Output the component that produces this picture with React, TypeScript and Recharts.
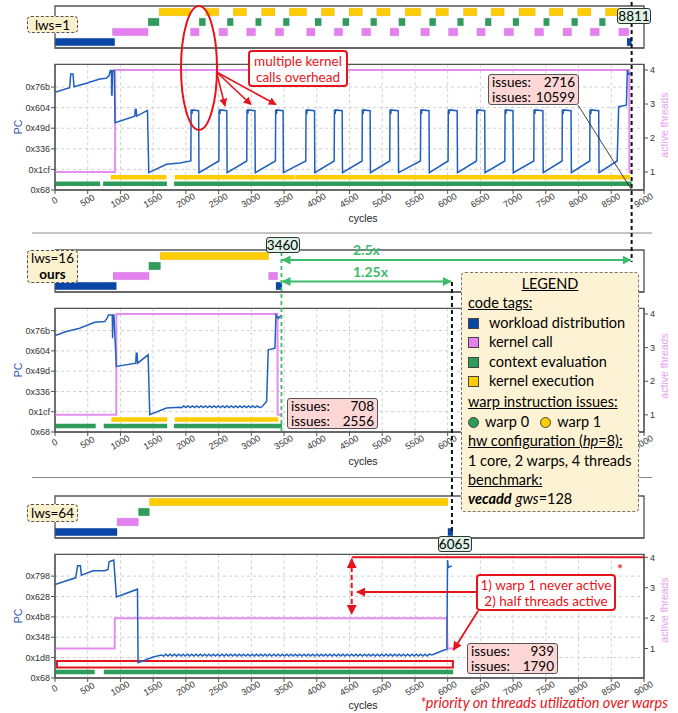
import React from 'react';
import {
  ComposedChart,
  Line,
  XAxis,
  YAxis,
  CartesianGrid,
  ReferenceArea,
  ReferenceLine,
} from 'recharts';

// ---- shared axis values ----
const CYCLE_TICKS = [0, 500, 1000, 1500, 2000, 2500, 3000, 3500, 4000, 4500, 5000, 5500, 6000, 6500, 7000, 7500, 8000, 8500, 9000];
const PC_TICKS_A = [0x68, 0x1cf, 0x336, 0x49d, 0x604, 0x76b];
const PC_TICKS_C = [0x68, 0x1d8, 0x348, 0x4b8, 0x628, 0x798];
const THREAD_TICKS = [1, 2, 3, 4];

// ---- lws=1 : code tag intervals [start, end] in cycles ----
const p1Workload = [[0, 913], [8740, 8811]];
const p1KernelCall = [[877, 1423], [2070, 2203], [2504, 2637], [2927, 3065], [3366, 3494], [3845, 3973], [4269, 4396], [4687, 4824], [5120, 5253], [5589, 5722], [6012, 6155], [6446, 6574], [6864, 7007], [7329, 7466], [7762, 7894], [8180, 8318], [8614, 8767]];
const p1Context = [[1423, 1591], [2203, 2300], [2632, 2723], [3065, 3152], [3488, 3580], [3973, 4070], [4396, 4493], [4824, 4916], [5253, 5350], [5722, 5819], [6150, 6242], [6574, 6665], [6997, 7089], [7466, 7553], [7894, 7986], [8318, 8410]];
const p1KernelExec = [[1591, 2070], [2300, 2504], [2723, 2927], [3157, 3361], [3580, 3845], [4070, 4269], [4493, 4697], [4916, 5120], [5350, 5589], [5819, 6012], [6242, 6446], [6665, 6864], [7089, 7339], [7553, 7762], [7986, 8190], [8410, 8614]];

// PC trace [cycle, pc]
const p1Pc = [
  [0, 1806], [224, 1887], [240, 2127], [275, 2127], [291, 1905], [480, 1964], [683, 2040], [785, 2051], [826, 2098], [845, 2185], [862, 2185], [866, 1760], [872, 1760], [878, 2185], [905, 2185], [918, 1276],
  [1219, 1392], [1226, 1509], [1240, 1509], [1248, 1392], [1413, 1491], [1433, 407], [1703, 553], [1907, 576], [2076, 610],
  [2080, 1509], [2092, 1430], [2098, 1500], [2195, 1486], [2200, 407],
  [2504, 610], [2508, 1509], [2520, 1430], [2526, 1500], [2625, 1486], [2630, 407],
  [2930, 610], [2934, 1509], [2946, 1430], [2952, 1500], [3055, 1486], [3060, 407],
  [3368, 610], [3372, 1509], [3384, 1430], [3390, 1500], [3485, 1486], [3490, 407],
  [3832, 610], [3836, 1509], [3848, 1430], [3854, 1500], [3965, 1486], [3970, 407],
  [4266, 610], [4270, 1509], [4282, 1430], [4288, 1500], [4388, 1486], [4393, 407],
  [4692, 610], [4696, 1509], [4708, 1430], [4714, 1500], [4815, 1486], [4820, 407],
  [5115, 610], [5119, 1509], [5131, 1430], [5137, 1500], [5245, 1486], [5250, 407],
  [5584, 610], [5588, 1509], [5600, 1430], [5606, 1500], [5715, 1486], [5720, 407],
  [6006, 610], [6010, 1509], [6022, 1430], [6028, 1500], [6145, 1486], [6150, 407],
  [6440, 610], [6444, 1509], [6456, 1430], [6462, 1500], [6566, 1486], [6571, 407],
  [6873, 610], [6877, 1509], [6889, 1430], [6895, 1500], [6998, 1486], [7003, 407],
  [7316, 610], [7320, 1509], [7332, 1430], [7338, 1500], [7455, 1486], [7460, 407],
  [7748, 610], [7752, 1509], [7764, 1430], [7770, 1500], [7885, 1486], [7890, 407],
  [8171, 610], [8175, 1509], [8187, 1430], [8193, 1500], [8308, 1486], [8313, 407],
  [8590, 610], [8613, 1556], [8731, 1583], [8746, 2197], [8760, 2121], [8811, 2140],
];
const p1Threads = [[0, 1], [918, 1], [920, 4], [8775, 4], [8777, 1], [8811, 1]];
const p1Warp0 = [[0, 690], [735, 1710], [1820, 8811]];
const p1Warp1 = [[852, 1703], [1830, 3660], [3672, 8786]];

// ---- lws=16 ----
const p2Workload = [[0, 938], [3376, 3468]];
const p2KernelCall = [[887, 1438], [3264, 3402]];
const p2Context = [[1433, 1612]];
const p2KernelExec = [[1607, 3264]];
const p2Pc = [
  [0, 1812], [173, 1883], [377, 1942], [607, 2048], [760, 2060], [796, 2118], [815, 2177], [875, 2177], [880, 1765], [886, 2177], [900, 2177], [938, 1264],
  [1234, 1323], [1242, 1500], [1254, 1500], [1262, 1323], [1423, 1470], [1448, 410], [1703, 528], [1900, 540],
  [1935, 535], [1968, 565], [2001, 535], [2034, 565], [2067, 535], [2100, 565], [2133, 535], [2166, 565], [2199, 535], [2232, 565],
  [2265, 535], [2298, 565], [2331, 535], [2364, 565], [2397, 535], [2430, 565], [2463, 535], [2496, 565], [2529, 535], [2562, 565],
  [2595, 535], [2628, 565], [2661, 535], [2694, 565], [2727, 535], [2760, 565], [2793, 535], [2826, 565], [2859, 535], [2892, 565],
  [2925, 535], [2958, 565], [2991, 535], [3024, 565], [3057, 535], [3090, 565], [3123, 540],
  [3160, 548], [3233, 646], [3259, 1559], [3361, 1588], [3376, 2177], [3412, 2118], [3463, 2177],
];
const p2Threads = [[0, 1], [936, 1], [938, 4], [3400, 4], [3402, 1], [3463, 1]];
const p2Warp0 = [[0, 622], [745, 1714], [1816, 3468]];
const p2Warp1 = [[862, 1714], [1831, 3412]];

// ---- lws=64 ----
const p3Workload = [[0, 949], [6003, 6080]];
const p3KernelCall = [[949, 1275]];
const p3Context = [[1275, 1443]];
const p3KernelExec = [[1443, 6003]];
const p3Pc = [
  [0, 1792], [173, 1859], [316, 1913], [345, 2130], [388, 2130], [403, 1961], [581, 2040], [760, 2040], [811, 2064], [826, 2203], [898, 2233], [938, 1569],
  [1260, 1708], [1270, 381], [1500, 484], [1627, 517],
  [1660, 500], [1693, 535], [1726, 500], [1759, 535], [1792, 500], [1825, 535], [1858, 500], [1891, 535], [1924, 500], [1957, 535],
  [1990, 500], [2023, 535], [2056, 500], [2089, 535], [2122, 500], [2155, 535], [2188, 500], [2221, 535], [2254, 500], [2287, 535],
  [2320, 500], [2353, 535], [2386, 500], [2419, 535], [2452, 500], [2485, 535], [2518, 500], [2551, 535], [2584, 500], [2617, 535],
  [2650, 500], [2683, 535], [2716, 500], [2749, 535], [2782, 500], [2815, 535], [2848, 500], [2881, 535], [2914, 500], [2947, 535],
  [2980, 500], [3013, 535], [3046, 500], [3079, 535], [3112, 500], [3145, 535], [3178, 500], [3211, 535], [3244, 500], [3277, 535],
  [3310, 500], [3343, 535], [3376, 500], [3409, 535], [3442, 500], [3475, 535], [3508, 500], [3541, 535], [3574, 500], [3607, 535],
  [3640, 500], [3673, 535], [3706, 500], [3739, 535], [3772, 500], [3805, 535], [3838, 500], [3871, 535], [3904, 500], [3937, 535],
  [3970, 500], [4003, 535], [4036, 500], [4069, 535], [4102, 500], [4135, 535], [4168, 500], [4201, 535], [4234, 500], [4267, 535],
  [4300, 500], [4333, 535], [4366, 500], [4399, 535], [4432, 500], [4465, 535], [4498, 500], [4531, 535], [4564, 500], [4597, 535],
  [4630, 500], [4663, 535], [4696, 500], [4729, 535], [4762, 500], [4795, 535], [4828, 500], [4861, 535], [4894, 500], [4927, 535],
  [4960, 500], [4993, 535], [5026, 500], [5059, 535], [5092, 500], [5125, 535], [5158, 500], [5191, 535], [5224, 500], [5257, 535],
  [5290, 500], [5323, 535], [5356, 500], [5389, 535], [5422, 500], [5455, 535], [5488, 500], [5521, 535], [5554, 500], [5587, 535],
  [5620, 500], [5653, 535], [5686, 500], [5719, 535],
  [5760, 520], [5936, 604], [5988, 620], [5998, 2233], [6010, 2100], [6065, 2130],
];
const p3Threads = [[0, 1], [912, 1], [914, 2], [5988, 2], [5998, 1], [6080, 1]];
const p3Warp0 = [[0, 607], [745, 6085]];
const p3Warp1: number[][] = [];

// ---- markers ----
const END_LWS1 = 8811;
const END_LWS16 = 3460;
const END_LWS64 = 6065;

const C = {
  workload: '#0a46a8',
  call: '#e680f2',
  context: '#2e9d5b',
  exec: '#ffcc00',
  pc: '#1f5fbf',
  thr: '#e58cf0',
  red: '#e8141b',
  green: '#3dbb6c',
  axis: '#555',
};

const TICK_FONT = 'Liberation Sans, Arial, sans-serif';
const TEXT_FONT = 'Lato, "Open Sans", sans-serif';
const WARP0_LEVEL = 212;
const WARP1_LEVEL = 326;

const hex = (v: number) => '0x' + v.toString(16);
const toPts = (pairs: number[][], key: string) => pairs.map(([x, v]) => ({ x, [key]: v }));
const toGapLine = (segs: number[][], level: number) =>
  segs.flatMap(([a, b]) => [{ x: a, w: level }, { x: b, w: level }, { x: b + 1, w: null }]);

// overlay x position of a cycle value (same mapping as the plot area)
const px = (c: number) => 55 + (c / 9000) * 589;

function CycleTick(props: any) {
  const { x, y, payload } = props;
  return (
    <text
      transform={`translate(${x},${y + 5}) rotate(-30)`}
      textAnchor="middle"
      dominantBaseline="middle"
      fontSize={9}
      fill="#333"
      fontFamily={TICK_FONT}
    >
      {payload.value}
    </text>
  );
}

interface StripProps {
  top: number;
  workload: number[][];
  call: number[][];
  context: number[][];
  exec: number[][];
}

const GanttStrip: React.FC<StripProps> = ({ top, workload, call, context, exec }) => {
  const rows: [number[][], string, number][] = [
    [workload, C.workload, 1],
    [call, C.call, 2],
    [context, C.context, 3],
    [exec, C.exec, 4],
  ];
  return (
    <div style={{ position: 'absolute', left: 0, top }}>
      <ComposedChart width={678} height={54} margin={{ top: 6, right: 0, bottom: 0, left: 0 }}>
        <CartesianGrid horizontal={false} strokeDasharray="3 3" stroke="#d0d0d0" />
        <XAxis
          type="number"
          dataKey="x"
          domain={[0, 9000]}
          ticks={CYCLE_TICKS}
          interval={0}
          height={6}
          tickSize={4}
          tick={false}
          stroke={C.axis}
          allowDataOverflow
        />
        <YAxis type="number" domain={[0.4, 4.6]} width={55} tick={false} tickLine={false} axisLine={false} allowDataOverflow />
        <YAxis yAxisId="r" orientation="right" type="number" domain={[0.4, 4.6]} width={34} tick={false} tickLine={false} axisLine={false} allowDataOverflow />
        {rows.map(([segs, color, row]) =>
          segs.map(([a, b], i) => (
            <ReferenceArea
              key={`${row}-${i}`}
              x1={a}
              x2={b}
              y1={row - 0.38}
              y2={row + 0.38}
              fill={color}
              fillOpacity={1}
              stroke="rgba(0,0,0,0.12)"
              strokeWidth={0.6}
            />
          ))
        )}
        <ReferenceArea x1={0} x2={9000} y1={0.4} y2={4.6} fill="none" stroke={C.axis} strokeWidth={1.3} />
      </ComposedChart>
    </div>
  );
};

interface TraceProps {
  top: number;
  height: number;
  pc: number[][];
  threads: number[][];
  warp0: number[][];
  warp1: number[][];
  pcTicks: number[];
  pcMax: number;
  thrDomain: number[];
  children?: React.ReactNode;
}

const TraceChart: React.FC<TraceProps> = ({ top, height, pc, threads, warp0, warp1, pcTicks, pcMax, thrDomain, children }) => (
  <div style={{ position: 'absolute', left: 0, top }}>
    <ComposedChart width={678} height={height} margin={{ top: 6.3, right: 0, bottom: 0, left: 0 }}>
      <CartesianGrid yAxisId="pc" strokeDasharray="3 3" stroke="#cfcfcf" />
      <XAxis
        type="number"
        dataKey="x"
        domain={[0, 9000]}
        ticks={CYCLE_TICKS}
        interval={0}
        height={36}
        tickSize={4}
        tickMargin={2}
        tick={<CycleTick />}
        stroke={C.axis}
        allowDataOverflow
      />
      <YAxis
        yAxisId="pc"
        type="number"
        domain={[104, pcMax]}
        ticks={pcTicks}
        interval={0}
        tickFormatter={hex}
        width={55}
        tickSize={4}
        tickMargin={1}
        stroke={C.axis}
        tick={{ fontSize: 9, fill: '#333', fontFamily: TICK_FONT }}
        allowDataOverflow
      />
      <YAxis
        yAxisId="thr"
        orientation="right"
        type="number"
        domain={thrDomain}
        ticks={THREAD_TICKS}
        interval={0}
        width={34}
        tickSize={4}
        tickMargin={2}
        stroke={C.axis}
        tick={{ fontSize: 9, fill: '#333', fontFamily: TICK_FONT, textAnchor: 'start' }}
        allowDataOverflow
      />
      <Line yAxisId="pc" data={toGapLine(warp0, WARP0_LEVEL)} dataKey="w" stroke={C.context} strokeWidth={4.5} dot={false} connectNulls={false} isAnimationActive={false} />
      <Line yAxisId="pc" data={toGapLine(warp1, WARP1_LEVEL)} dataKey="w" stroke={C.exec} strokeWidth={4.5} dot={false} connectNulls={false} isAnimationActive={false} />
      <Line yAxisId="thr" data={toPts(threads, 't')} dataKey="t" type="linear" stroke={C.thr} strokeWidth={2} dot={false} isAnimationActive={false} />
      <Line yAxisId="pc" data={toPts(pc, 'pc')} dataKey="pc" type="linear" stroke={C.pc} strokeWidth={1.5} dot={false} isAnimationActive={false} />
      {children}
      <ReferenceArea yAxisId="pc" x1={0} x2={9000} y1={104} y2={pcMax} fill="none" stroke={C.axis} strokeWidth={1.3} />
    </ComposedChart>
  </div>
);

const TagBox: React.FC<{ left: number; top: number; width: number; height: number; lh?: number; children: React.ReactNode }> = ({ left, top, width, height, lh = 14, children }) => (
  <div
    style={{
      position: 'absolute', left, top, width, height, boxSizing: 'border-box',
      background: '#fcf1cf', border: '1px dashed #555', borderRadius: 4,
      fontSize: 13.5, lineHeight: `${lh}px`, textAlign: 'center', display: 'flex',
      flexDirection: 'column', justifyContent: 'center', fontFamily: TEXT_FONT, color: '#000',
    }}
  >
    {children}
  </div>
);

const Marker: React.FC<{ cx: number; top: number; label: number }> = ({ cx, top, label }) => (
  <div
    style={{
      position: 'absolute', left: cx - 17, top, width: 34, height: 16, boxSizing: 'border-box',
      background: '#dcf3e6', border: '1px solid #333', borderRadius: 3, fontSize: 13.5,
      lineHeight: '14px', textAlign: 'center', fontFamily: TEXT_FONT, color: '#000',
    }}
  >
    {label}
  </div>
);

const IssuesBox: React.FC<{ left: number; top: number; w0: number; w1: number }> = ({ left, top, w0, w1 }) => (
  <div
    style={{
      position: 'absolute', left, top, width: 91, height: 31, boxSizing: 'border-box',
      background: '#fdd6d6', border: '1px solid #555', borderRadius: 3, padding: '0 3px',
      fontSize: 13.5, lineHeight: '14.5px', fontFamily: TEXT_FONT, color: '#000',
    }}
  >
    <div style={{ display: 'flex', justifyContent: 'space-between' }}><span>issues:</span><span>{w0}</span></div>
    <div style={{ display: 'flex', justifyContent: 'space-between' }}><span>issues:</span><span>{w1}</span></div>
  </div>
);

const Swatch: React.FC<{ color: string }> = ({ color }) => (
  <span style={{ display: 'inline-block', width: 11, height: 11, background: color, border: '1px solid #444', boxSizing: 'border-box', marginRight: 10, verticalAlign: -1 }} />
);
const Dot: React.FC<{ color: string }> = ({ color }) => (
  <span style={{ display: 'inline-block', width: 11, height: 11, background: color, border: '1px solid #444', borderRadius: '50%', boxSizing: 'border-box', marginRight: 6, verticalAlign: -1 }} />
);

const Legend: React.FC = () => {
  const row = { height: 19.4, lineHeight: '19.4px', whiteSpace: 'nowrap' as const };
  const u = { textDecoration: 'underline' };
  return (
    <div
      style={{
        position: 'absolute', left: 461, top: 272, width: 178, height: 240, boxSizing: 'border-box',
        background: '#fdf3d4', border: '1px dashed #777', borderRadius: 4, padding: '1px 0 0 6px',
        fontSize: 14.5, fontFamily: TEXT_FONT, color: '#000',
      }}
    >
      <div style={{ ...row, ...u, textAlign: 'center', paddingRight: 6 }}>LEGEND</div>
      <div style={{ ...row, ...u }}>code tags:</div>
      <div style={row}><Swatch color={C.workload} />workload distribution</div>
      <div style={row}><Swatch color={C.call} />kernel call</div>
      <div style={row}><Swatch color={C.context} />context evaluation</div>
      <div style={row}><Swatch color={C.exec} />kernel execution</div>
      <div style={{ ...row, ...u, marginTop: 2 }}>warp instruction issues:</div>
      <div style={row}><Dot color={C.context} />warp 0 &nbsp;&nbsp;<Dot color={C.exec} />warp 1</div>
      <div style={{ ...row, ...u }}>hw configuration (<i>hp</i>=8):</div>
      <div style={row}>1 core, 2 warps, 4 threads</div>
      <div style={{ ...row, ...u }}>benchmark:</div>
      <div style={row}><b><i>vecadd</i></b> <i>gws</i>=128</div>
    </div>
  );
};

const RedBox: React.FC<{ left: number; top: number; width: number; height: number; lines: string[] }> = ({ left, top, width, height, lines }) => (
  <div
    style={{
      position: 'absolute', left, top, width, height, boxSizing: 'border-box',
      background: 'rgba(255,255,255,0.92)', border: `2px solid ${C.red}`, borderRadius: 4,
      fontSize: 13.5, lineHeight: '16px', color: C.red, fontFamily: TEXT_FONT, textAlign: 'center',
      display: 'flex', flexDirection: 'column', justifyContent: 'center', whiteSpace: 'nowrap',
    }}
  >
    {lines.map((l) => <div key={l}>{l}</div>)}
  </div>
);

const Overlay: React.FC = () => {
  const axisTitle = { fontSize: 10.5, fontFamily: TICK_FONT };
  return (
    <svg width={678} height={713} style={{ position: 'absolute', left: 0, top: 0, pointerEvents: 'none' }}>
      <defs>
        <marker id="redHead" viewBox="0 0 10 10" refX="9" refY="5" markerWidth="5" markerHeight="5" orient="auto-start-reverse">
          <path d="M0,0 L10,5 L0,10 z" fill={C.red} />
        </marker>
        <marker id="greenHead" viewBox="0 0 10 10" refX="9" refY="5" markerWidth="5" markerHeight="5" orient="auto-start-reverse">
          <path d="M0,0 L10,5 L0,10 z" fill={C.green} />
        </marker>
      </defs>

      {/* panel separators */}
      <line x1={32} x2={652} y1={233} y2={233} stroke="#888" strokeWidth={1} />
      <line x1={32} x2={652} y1={477.5} y2={477.5} stroke="#888" strokeWidth={1} />

      {/* axis titles */}
      {[127, 370, 616].map((cy) => (
        <text key={cy} transform={`translate(19,${cy}) rotate(-90)`} textAnchor="middle" dominantBaseline="middle" fill="#2a5aa8" {...axisTitle}>PC</text>
      ))}
      {[125, 366, 610].map((cy) => (
        <text key={cy} transform={`translate(665,${cy}) rotate(-90)`} textAnchor="middle" dominantBaseline="middle" fill="#e6a0f0" {...axisTitle}>active threads</text>
      ))}
      {[219, 462, 706].map((cy) => (
        <text key={cy} x={363} y={cy} textAnchor="middle" dominantBaseline="middle" fill="#222" {...axisTitle}>cycles</text>
      ))}

      {/* end markers */}
      <line x1={px(END_LWS1)} x2={px(END_LWS1)} y1={2} y2={262} stroke="#111" strokeWidth={2} strokeDasharray="4 3" />
      <line x1={px(END_LWS64)} x2={px(END_LWS64)} y1={282} y2={531} stroke="#111" strokeWidth={2} strokeDasharray="4 3" />
      <line x1={px(END_LWS16)} x2={px(END_LWS16)} y1={252} y2={432} stroke={C.green} strokeWidth={1.8} strokeDasharray="4 3" />

      {/* speedup arrows */}
      <line x1={px(END_LWS16) + 1} x2={px(END_LWS1) - 1} y1={260} y2={260} stroke={C.green} strokeWidth={1.8} markerStart="url(#greenHead)" markerEnd="url(#greenHead)" />
      <line x1={px(END_LWS16) + 1} x2={px(END_LWS64) - 1} y1={281.5} y2={281.5} stroke={C.green} strokeWidth={1.8} markerStart="url(#greenHead)" markerEnd="url(#greenHead)" />
      <text x={353} y={251} dominantBaseline="middle" fill={C.green} fontWeight="bold" fontSize={14} fontFamily={TEXT_FONT}>2.5x</text>
      <text x={353} y={273} dominantBaseline="middle" fill={C.green} fontWeight="bold" fontSize={14} fontFamily={TEXT_FONT}>1.25x</text>

      {/* lws=1 annotations */}
      <ellipse cx={199} cy={68} rx={18} ry={62} fill="none" stroke={C.red} strokeWidth={2} />
      <line x1={216.5} y1={72} x2={225} y2={106} stroke={C.red} strokeWidth={1.6} markerEnd="url(#redHead)" />
      <line x1={216.5} y1={72} x2={251} y2={104.5} stroke={C.red} strokeWidth={1.6} markerEnd="url(#redHead)" />
      <line x1={216.5} y1={72} x2={276} y2={104.5} stroke={C.red} strokeWidth={1.6} markerEnd="url(#redHead)" />
      <line x1={578} y1={105} x2={px(END_LWS1)} y2={190} stroke="#111" strokeWidth={0.8} />

      {/* lws=64 annotations */}
      <line x1={351.7} x2={351.7} y1={559} y2={614} stroke={C.red} strokeWidth={2} strokeDasharray="5 3" markerStart="url(#redHead)" markerEnd="url(#redHead)" />
      <line x1={476} x2={357} y1={592} y2={592} stroke={C.red} strokeWidth={1.8} markerEnd="url(#redHead)" />
      <line x1={478} y1={611} x2={453.5} y2={650} stroke={C.red} strokeWidth={1.8} markerEnd="url(#redHead)" />
      <text x={620} y={571} textAnchor="middle" dominantBaseline="middle" fill={C.red} fontSize={13} fontWeight="bold" fontFamily={TEXT_FONT}>*</text>
      <text x={668} y={704} textAnchor="end" dominantBaseline="middle" fill={C.red} fontSize={14.5} fontStyle="italic" fontFamily={TEXT_FONT}>*priority on threads utilization over warps</text>
    </svg>
  );
};

export default function App() {
  return (
    <div style={{ position: 'absolute', left: 0, top: 0, width: 678, height: 713, background: '#fff', fontFamily: TEXT_FONT }}>
      <GanttStrip top={0} workload={p1Workload} call={p1KernelCall} context={p1Context} exec={p1KernelExec} />
      <TraceChart top={58} height={168} pc={p1Pc} threads={p1Threads} warp0={p1Warp0} warp1={p1Warp1} pcTicks={PC_TICKS_A} pcMax={2295} thrDomain={[0.47, 4.17]} />

      <GanttStrip top={244} workload={p2Workload} call={p2KernelCall} context={p2Context} exec={p2KernelExec} />
      <TraceChart top={302} height={166} pc={p2Pc} threads={p2Threads} warp0={p2Warp0} warp1={p2Warp1} pcTicks={PC_TICKS_A} pcMax={2294} thrDomain={[0.49, 4.17]} />

      <GanttStrip top={490} workload={p3Workload} call={p3KernelCall} context={p3Context} exec={p3KernelExec} />
      <TraceChart top={548} height={166} pc={p3Pc} threads={p3Threads} warp0={p3Warp0} warp1={p3Warp1} pcTicks={PC_TICKS_C} pcMax={2338} thrDomain={[0.03, 4.1]}>
        <ReferenceArea yAxisId="pc" x1={30} x2={6080} y1={292} y2={412} fill="none" stroke={C.red} strokeWidth={2} />
        <ReferenceLine yAxisId="thr" segment={[{ x: 4534, y: 4 }, { x: 9000, y: 4 }]} stroke={C.red} strokeWidth={2} />
      </TraceChart>

      <Overlay />

      <TagBox left={27} top={16} width={51} height={17}>lws=1</TagBox>
      <TagBox left={27} top={249.5} width={51} height={33} lh={16}>
        <div>lws=16</div>
        <div style={{ fontWeight: 'bold' }}>ours</div>
      </TagBox>
      <TagBox left={27} top={504} width={51} height={18}>lws=64</TagBox>

      <Marker cx={634} top={8} label={END_LWS1} />
      <Marker cx={282.5} top={236.5} label={END_LWS16} />
      <Marker cx={454.5} top={536} label={END_LWS64} />

      <RedBox left={248} top={50} width={100} height={37} lines={['multiple kernel', 'calls overhead']} />
      <RedBox left={476} top={574} width={140} height={37} lines={['1) warp 1 never active', '2) half threads active']} />

      <IssuesBox left={488} top={74} w0={2716} w1={10599} />
      <IssuesBox left={287} top={398} w0={708} w1={2556} />
      <IssuesBox left={467} top={643} w0={939} w1={1790} />

      <Legend />
    </div>
  );
}
